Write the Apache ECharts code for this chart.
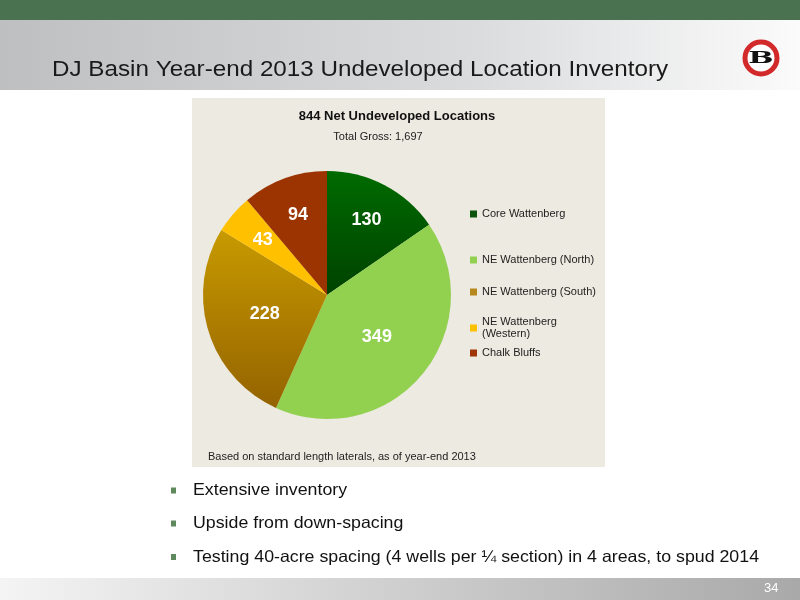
<!DOCTYPE html>
<html><head><meta charset="utf-8">
<script src="https://cdn.jsdelivr.net/npm/echarts@6/dist/echarts.min.js"></script>
<style>html,body{margin:0;padding:0;background:#fff}#c{width:800px;height:600px}</style>
</head><body><div id="c"></div>
<script>
// ---- data ----
var categories = ['Core Wattenberg', 'NE Wattenberg (North)', 'NE Wattenberg (South)', 'NE Wattenberg (Western)', 'Chalk Bluffs'];
var netLocations = [130, 349, 228, 43, 94];
var slideTitle = 'DJ Basin Year-end 2013 Undeveloped Location Inventory';
var chartTitle = '844 Net Undeveloped Locations';
var chartSubtitle = 'Total Gross: 1,697';
var footnote = 'Based on standard length laterals, as of year-end 2013';
var bullets = ['Extensive inventory', 'Upside from down-spacing', 'Testing 40-acre spacing (4 wells per \u00bc section) in 4 areas, to spud 2014'];
var pageNumber = '34';

// ---- styles ----
function vgrad(a, b) {
  return new echarts.graphic.LinearGradient(0, 0, 0, 1, [{offset: 0, color: a}, {offset: 1, color: b}]);
}
var sliceColors = [
  vgrad('#006b00', '#004200'),
  '#92d050',
  vgrad('#c79a00', '#946300'),
  '#ffc000',
  '#9b3400'
];
var legendColors = ['#0d540d', '#92d050', '#b5871d', '#ffc000', '#9e3608'];
var FONT = 'Liberation Sans, Arial, sans-serif';
var STRETCH = 1.077;
var total = netLocations.reduce(function (a, b) { return a + b; }, 0);

var chart = echarts.init(document.getElementById('c'), null, {renderer: 'canvas'});

var center = [327, 295];
var R = 124;

var mainData = categories.map(function (n, i) {
  var inner = netLocations[i] / total >= 0.2;
  return {name: n, value: netLocations[i], itemStyle: {color: sliceColors[i]}, label: {show: inner}};
});
var ghostData = categories.map(function (n, i) {
  var inner = netLocations[i] / total >= 0.2;
  return {name: n, value: netLocations[i], itemStyle: {color: 'rgba(0,0,0,0)'}, label: {show: !inner}};
});

var labelStyle = {position: 'inside', formatter: '{c}', color: '#fff', fontFamily: FONT, fontWeight: 'bold', fontSize: 18};

var legendTops = [208, 254, 286, 310, 347];
var legends = categories.map(function (n, i) {
  var twoLine = n === 'NE Wattenberg (Western)';
  return {
    left: 470, top: legendTops[i], orient: 'vertical', padding: 0,
    data: [{name: n, itemStyle: {color: legendColors[i]}}],
    icon: 'rect', itemWidth: 7, itemHeight: 7, itemGap: 0,
    selectedMode: false,
    textStyle: {fontFamily: FONT, fontSize: 11, color: '#222', lineHeight: 12, padding: twoLine ? [12, 0, 0, 0] : 0},
    formatter: function (name) { return name === 'NE Wattenberg (Western)' ? 'NE Wattenberg\n(Western)' : name; }
  };
});

var graphics = [
  // top green bar
  {type: 'rect', shape: {x: 0, y: 0, width: 800, height: 20}, style: {fill: '#4a7150'}, silent: true},
  // header gradient
  {type: 'rect', shape: {x: 0, y: 20, width: 800, height: 70},
   style: {fill: new echarts.graphic.LinearGradient(0, 0, 1, 0, [{offset: 0, color: '#bdbfc1'}, {offset: 0.6, color: '#dbdcde'}, {offset: 1, color: '#fbfbfb'}])}, silent: true},
  {type: 'text', x: 52, y: 70, scaleX: STRETCH, style: {x: 0, y: 0, text: slideTitle, font: '22.5px ' + FONT, fill: '#1a1a1a', verticalAlign: 'middle'}},
  // logo
  {type: 'circle', shape: {cx: 761, cy: 58, r: 16}, style: {fill: '#fff', stroke: '#d22a2a', lineWidth: 5}},
  {type: 'text', x: 761, y: 59, scaleX: 1.5, scaleY: 0.85, style: {x: 0, y: 0, text: 'B', font: 'bold 20px DejaVu Serif, serif', fill: '#111', align: 'center', verticalAlign: 'middle'}},
  // chart panel
  {type: 'rect', z: -1, shape: {x: 192, y: 98, width: 413, height: 369}, style: {fill: '#edeae1'}, silent: true},
  {type: 'text', left: 208, top: 451, style: {text: footnote, font: '11px ' + FONT, fill: '#222'}},
  // footer
  {type: 'rect', shape: {x: 0, y: 578, width: 800, height: 22},
   style: {fill: new echarts.graphic.LinearGradient(0, 0, 1, 0, [{offset: 0, color: '#f4f4f4'}, {offset: 1, color: '#a9a9a9'}])}, silent: true},
  {type: 'text', left: 764, top: 582, style: {text: pageNumber, font: '13px ' + FONT, fill: '#fff'}}
];
var bulletYs = [490.5, 523.5, 557];
bullets.forEach(function (b, i) {
  graphics.push({type: 'rect', shape: {x: 171, y: bulletYs[i] - 3, width: 5, height: 6}, style: {fill: '#5e8a5e'}});
  graphics.push({type: 'text', x: 193, y: bulletYs[i], scaleX: STRETCH, style: {x: 0, y: 0, text: b, font: '16.5px ' + FONT, fill: '#111', verticalAlign: 'middle'}});
});

chart.setOption({
  backgroundColor: '#fff',
  animation: false,
  title: [
    {text: chartTitle, left: 397, top: 110, padding: 0, textAlign: 'center', textStyle: {fontFamily: FONT, fontSize: 13, fontWeight: 'bold', color: '#111'}},
    {text: chartSubtitle, left: 378, top: 131, padding: 0, textAlign: 'center', textStyle: {fontFamily: FONT, fontSize: 11, fontWeight: 'normal', color: '#222'}}
  ],
  legend: legends,
  graphic: graphics,
  series: [
    {type: 'pie', center: center, radius: [0, R], startAngle: 90, clockwise: true,
     data: mainData, label: labelStyle, labelLine: {show: false}, silent: true, emphasis: {disabled: true}},
    {type: 'pie', center: center, radius: [0, R * 1.32], startAngle: 90, clockwise: true,
     data: ghostData, label: labelStyle, labelLine: {show: false}, silent: true, emphasis: {disabled: true}, z: 3}
  ]
});
</script></body></html>
